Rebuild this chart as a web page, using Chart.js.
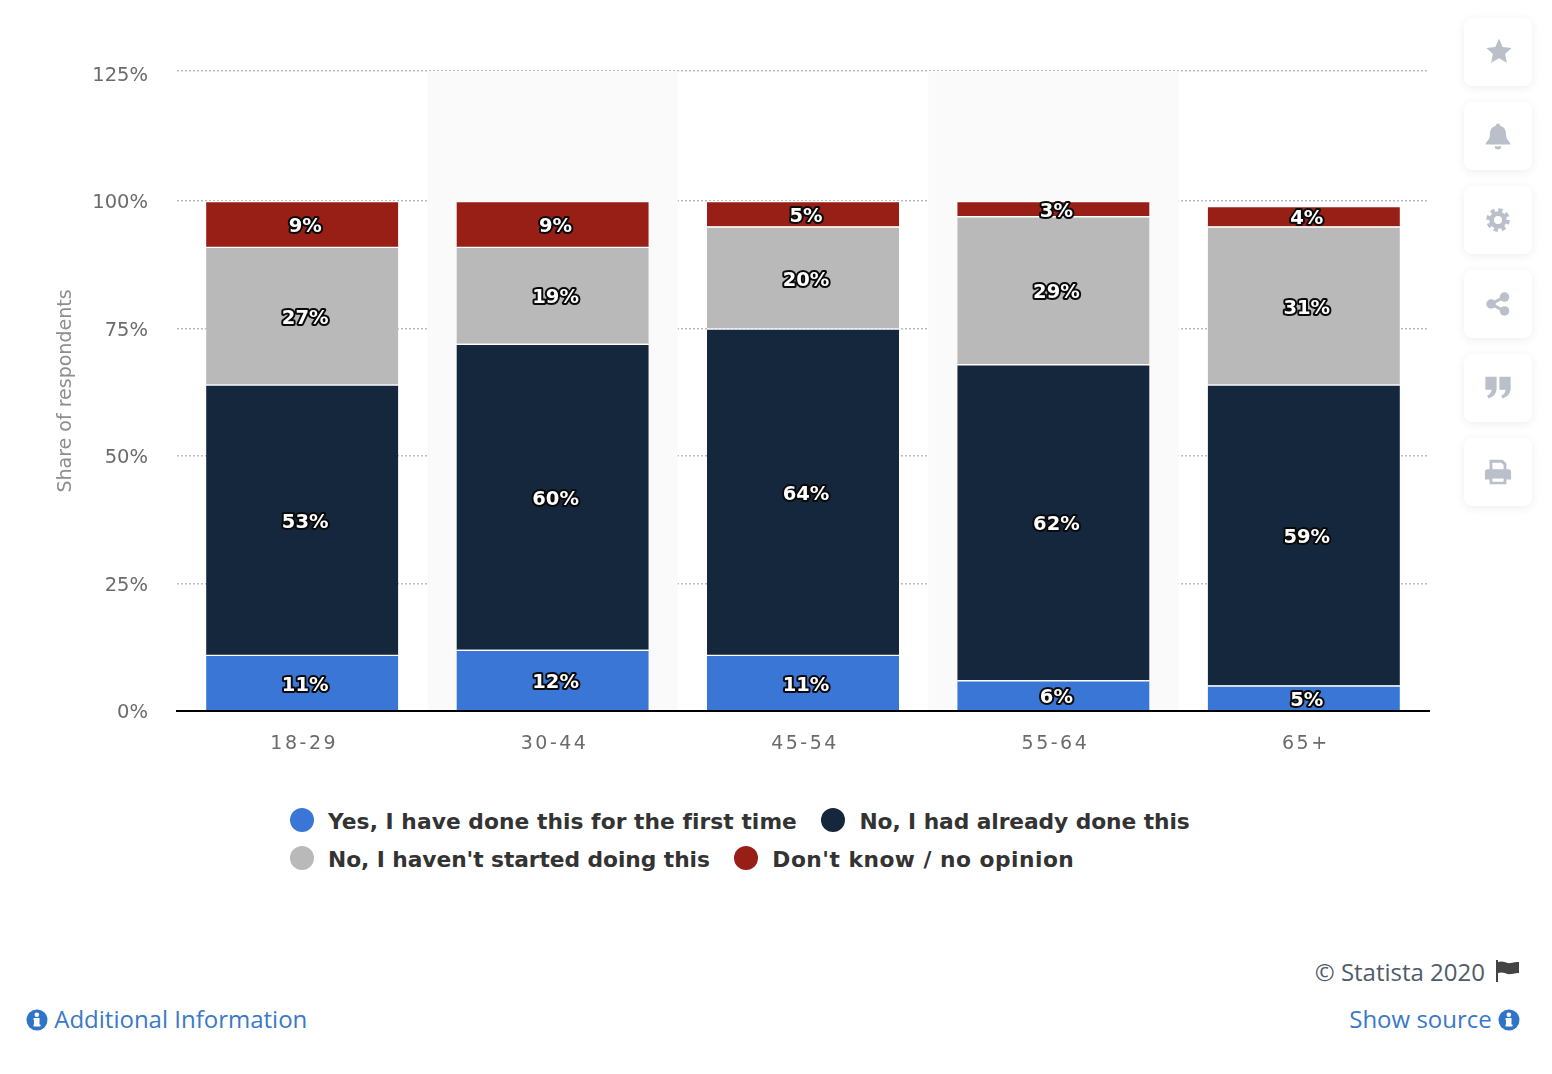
<!DOCTYPE html>
<html><head><meta charset="utf-8">
<script src="https://cdn.jsdelivr.net/npm/chart.js@4"></script>
<style>
html,body{margin:0;padding:0;background:#fff;width:1552px;height:1074px;overflow:hidden;font-family:"Open Sans",sans-serif}
#wrap{position:absolute;left:0;top:0;width:1430px;height:780px}
#legend{position:absolute;left:290px;top:803px;width:1000px;font-family:"DejaVu Sans",sans-serif;font-weight:700;font-size:21.75px;letter-spacing:0;color:#333}
.row{height:38px;line-height:38px;white-space:nowrap;display:flex}
.item{display:flex;align-items:center;margin-right:24.5px}
.dot{width:24px;height:24px;border-radius:50%;margin-right:14px;position:relative;top:-2px}
.card{position:absolute;left:1464px;width:68px;height:68px;background:#fff;border-radius:8px;box-shadow:0 2px 10px rgba(60,70,90,.09);display:flex;align-items:center;justify-content:center}
.card svg{width:28px;height:28px;fill:#b9c0c9}
.txt{position:absolute;font-size:24px;white-space:nowrap;letter-spacing:0;line-height:32px}
.txt svg{display:inline-block;vertical-align:-3px}
</style></head><body>
<div id="wrap"><canvas id="c"></canvas></div>
<div id="legend"></div>

<div class="card" style="top:18px"><svg style="position:relative;left:1px;top:-1px" viewBox="0 0 30 30"><path d="M15 2l4 8.700 9.500 1.100-7 6.400 1.900 9.400L15 22.800l-8.400 4.800 1.900-9.400-7-6.400L11 10.700z"/></svg></div>
<div class="card" style="top:102px"><svg viewBox="0 0 30 30"><path d="M15 1.500a2.200 2.200 0 0 1 2.200 2.400c4.500 1 6.400 4.600 6.400 9 0 5 2 6.600 4.400 9.600v1.700H2v-1.700C4.400 19.500 6.400 17.900 6.400 12.900c0-4.400 1.900-8 6.400-9A2.200 2.200 0 0 1 15 1.500z"/><path d="M11.500 26h7a3.500 3.500 0 0 1-7 0z"/></svg></div>
<div class="card" style="top:186px"><svg style="width:24px;height:24px" viewBox="0 0 30 30"><circle cx="15" cy="15" r="8" fill="none" stroke="#b9c0c9" stroke-width="6"/><circle cx="15" cy="15" r="12.500" fill="none" stroke="#b9c0c9" stroke-width="4.500" stroke-dasharray="5.200 4.620"/></svg></div>
<div class="card" style="top:270px"><svg style="width:26px;height:26px" viewBox="0 0 30 30"><path d="M22 7L7 15l15 8" fill="none" stroke="#b9c0c9" stroke-width="3.500"/><circle cx="22.500" cy="7" r="5.500"/><circle cx="7" cy="15" r="5.500"/><circle cx="22.500" cy="23" r="5.500"/></svg></div>
<div class="card" style="top:354px"><svg viewBox="0 0 30 30"><path d="M1.500 3h12v12c0 6-3.500 10-9 11l-1-3c3-1 4.500-3 4.500-6H1.500zM16.500 3h12v12c0 6-3.500 10-9 11l-1-3c3-1 4.500-3 4.500-6h-6.500z"/></svg></div>
<div class="card" style="top:438px"><svg viewBox="0 0 30 30"><path d="M6 2h14l4 4v7h-3V7.500L18.500 5H9v8H6z"/><path d="M4 12h22a3 3 0 0 1 3 3v8h-5v5H6v-5H1v-8a3 3 0 0 1 3-3zm5 10v3.500h12V22z" fill-rule="evenodd"/></svg></div>

<div class="txt" style="right:67px;top:956px;color:#4f5b6b">© Statista 2020</div>
<div class="txt" style="left:1495px;top:956px"><svg width="26" height="26" viewBox="0 0 26 26"><rect x="1" y="2" width="2" height="22" fill="#444"/><path d="M3 4c5-2 9 2 13 1s5-1 8-1v11c-4 0-5 1-8 1-4 1-8-3-13-1z" fill="#444"/></svg></div>
<div class="txt" style="left:26px;top:1003px;color:#3a79c9"><svg width="22" height="22" viewBox="0 0 22 22"><circle cx="11" cy="11" r="10.500" fill="#2f75c7"/><rect x="8" y="9" width="5.500" height="8" fill="#fff"/><rect x="7.500" y="15.500" width="7" height="2" fill="#fff"/><rect x="7.500" y="9" width="3" height="2" fill="#fff"/><circle cx="10.800" cy="5.800" r="2.300" fill="#fff"/></svg> Additional Information</div>
<div class="txt" style="right:32px;top:1003px;color:#3a79c9">Show source <svg width="22" height="22" viewBox="0 0 22 22"><circle cx="11" cy="11" r="10.500" fill="#2f75c7"/><rect x="8" y="9" width="5.500" height="8" fill="#fff"/><rect x="7.500" y="15.500" width="7" height="2" fill="#fff"/><rect x="7.500" y="9" width="3" height="2" fill="#fff"/><circle cx="10.800" cy="5.800" r="2.300" fill="#fff"/></svg></div>

<script>
const categories = ["18-29","30-44","45-54","55-64","65+"];
const firstTime = [11,12,11,6,5];
const alreadyDone = [53,60,64,62,59];
const notStarted = [27,19,20,29,31];
const dontKnow = [9,9,5,3,4];
const seriesNames = ["Yes, I have done this for the first time","No, I had already done this","No, I haven't started doing this","Don't know / no opinion"];
const seriesColors = ["#3a76d6","#14273d","#b9b9b9","#981f16"];
const yTicks = [0,25,50,75,100,125];
const legendRows = [[0,1],[2,3]];
const legendTracking = ['0.06px','-0.07px','-0.06px','0.5px'];

const FONT = '"DejaVu Sans", sans-serif';

const bandsBehind = {id:'bandsBehind', beforeDatasetsDraw(c){
  const {ctx,chartArea:a,scales:{x}}=c; ctx.save(); ctx.fillStyle='#fafafa';
  const w=(a.right-a.left)/categories.length;
  categories.forEach((_,i)=>{ if(i%2===1){
    ctx.fillRect(x.getPixelForValue(i)-w/2,a.top,w,a.bottom-a.top);
  }});
  ctx.restore();
}};
const labels = {id:'labels', afterDatasetsDraw(c){
  const ctx=c.ctx; ctx.save();
  ctx.font='700 19.5px '+FONT; ctx.textAlign='center'; ctx.textBaseline='middle'; ctx.lineJoin='round';
  c.data.datasets.forEach((ds,d)=>{
    c.getDatasetMeta(d).data.forEach((b,i)=>{
      const x=b.x+3, y=(b.y+b.base)/2+3, t=ds.data[i]+'%';
      ctx.strokeStyle='#0a0a0a'; ctx.lineWidth=4; ctx.strokeText(t,x,y);
      ctx.fillStyle='#fff'; ctx.fillText(t,x,y);
    });
  });
  ctx.restore();
}};

new Chart(document.getElementById('c'),{
  type:'bar',
  data:{labels:categories,datasets:[firstTime,alreadyDone,notStarted,dontKnow].map((v,i)=>({
    label:seriesNames[i],data:v,backgroundColor:seriesColors[i],borderColor:'#fff',
    borderWidth:{top:1.5,left:0,right:0,bottom:0},borderSkipped:false,barThickness:192
  }))},
  plugins:[bandsBehind,labels],
  options:{
    responsive:true,maintainAspectRatio:false,animation:false,devicePixelRatio:1,
    layout:{padding:{top:71,left:0,right:1,bottom:0}},
    plugins:{legend:{display:false},tooltip:{enabled:false}},
    scales:{
      x:{stacked:true,
        afterFit(s){
          s.height=69;
          if(!s._spaced){ s._spaced=true; const d=s.drawLabels;
            s.drawLabels=function(a){ s.ctx.letterSpacing='2.5px'; d.call(s,a); s.ctx.letterSpacing='0px'; }; }
        },
        grid:{display:false,drawTicks:false},
        border:{display:true,color:'#000',width:2,z:1},
        ticks:{color:'#6b6b6b',padding:22,labelOffset:2,font:{family:FONT,size:19}}
      },
      y:{stacked:true,min:0,max:125.5,
        afterFit(s){s.width=177;},
        afterBuildTicks(s){s.ticks=yTicks.map(v=>({value:v})).concat([{value:s.max}]);},
        grid:{color:c=>c.tick&&c.tick.value===yTicks[yTicks.length-1]?'rgba(0,0,0,0)':'#bcbcbc',lineWidth:1.5,drawTicks:false},
        border:{display:false,dash:[2,2]},
        title:{display:true,text:'Share of respondents',color:'#8e8e8e',padding:{top:55,bottom:0},font:{family:FONT,size:19}},
        ticks:{color:'#6b6b6b',padding:29,labelOffset:2,callback:v=>yTicks.includes(v)?v+'%':'',font:{family:FONT,size:19.5}}
      }
    }
  }
});

const lg=document.getElementById('legend');
legendRows.forEach(r=>{
  const row=document.createElement('div');row.className='row';
  r.forEach(i=>{
    const it=document.createElement('div');it.className='item';
    const dot=document.createElement('span');dot.className='dot';dot.style.background=seriesColors[i];
    const t=document.createElement('span');t.textContent=seriesNames[i];t.style.letterSpacing=legendTracking[i];
    it.append(dot,t);row.append(it);
  });
  lg.append(row);
});
</script>
</body></html>
